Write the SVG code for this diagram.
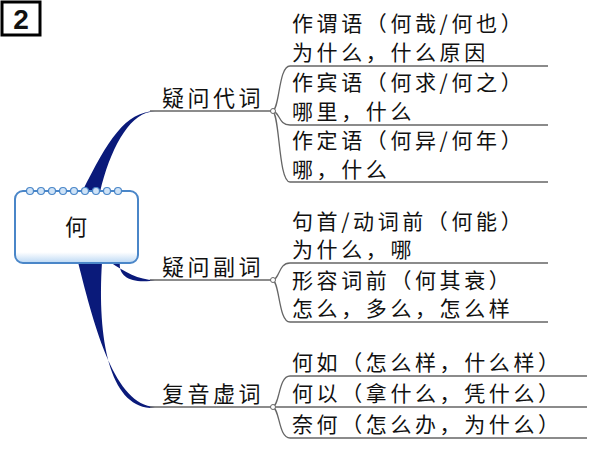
<svg xmlns="http://www.w3.org/2000/svg" width="600" height="450" viewBox="0 0 600 450">
<style>
text{font-family:"Noto Sans CJK SC","Liberation Serif",serif;fill:#111}
.c{font-size:21px;letter-spacing:3.6px}
.b{font-size:22px;letter-spacing:3.5px}
.l{fill:none;stroke:#666;stroke-width:1.3}
.t{fill:#0a1a7a}
</style>
<defs>
<linearGradient id="g" x1="0" y1="0" x2="0" y2="1"><stop offset="0" stop-color="#fff"/><stop offset="0.85" stop-color="#fff"/><stop offset="1" stop-color="#bcd8f4"/></linearGradient>
</defs>
<rect width="600" height="450" fill="#fff"/>
<g id="title"><rect x="2" y="2" width="38" height="33" fill="#fff" stroke="#000" stroke-width="3"/><text x="21" y="29" text-anchor="middle" style="font-family:'Liberation Sans',sans-serif;font-weight:bold;font-size:28px">2</text></g>
<g id="connectors">
<path class="t" d="M82,192 C108,140 125,112 155,111 L150,112 C128,116 110,150 100,192 Z"/>
<path class="t" d="M110,262 C125,272 138,280 155,280 L150,281 C130,283 118,276 120,262 Z"/>
<path class="t" d="M78,262 C95,330 115,405 155,407 L150,408 C110,405 97,340 102,262 Z"/>
<path class="l" d="M150,111 H272"/><path class="l" d="M150,280 H272"/><path class="l" d="M150,407 H272"/>
<path class="l" d="M272,111 C280,111 278,66 290,66 H548 M272,111 C280,111 278,125 290,125 H548 M272,111 C280,111 278,182 290,182 H548"/>
<path class="l" d="M272,280 C280,280 278,263 290,263 H548 M272,280 C280,280 278,322 290,322 H548"/>
<path class="l" d="M272,407 C280,407 278,376 290,376 H587 M272,407 H587 M272,407 C280,407 278,438 290,438 H587"/>
<circle cx="273" cy="111" r="2.5" fill="#fff" stroke="#666"/><circle cx="273" cy="280" r="2.5" fill="#fff" stroke="#666"/><circle cx="273" cy="407" r="2.5" fill="#fff" stroke="#666"/>
</g>
<g id="root">
<rect x="15" y="191" width="123" height="72" rx="8" fill="url(#g)" stroke="#4a86c8" stroke-width="2"/>
<g fill="#cfe3f7" stroke="#4a86c8" stroke-width="1.2">
<circle cx="30" cy="191" r="3.5"/><circle cx="41" cy="191" r="3.5"/><circle cx="52" cy="191" r="3.5"/><circle cx="63" cy="191" r="3.5"/><circle cx="74" cy="191" r="3.5"/><circle cx="85" cy="191" r="3.5"/><circle cx="96" cy="191" r="3.5"/><circle cx="107" cy="191" r="3.5"/><circle cx="118" cy="191" r="3.5"/>
</g>
<text x="76" y="235" text-anchor="middle" style="font-size:22px">何</text>
</g>
<g id="b1"><text class="b" x="162" y="106">疑问代词</text></g>
<g id="b2"><text class="b" x="162" y="275">疑问副词</text></g>
<g id="b3"><text class="b" x="162" y="402">复音虚词</text></g>
<g id="n1"><text class="c" x="292" y="31">作谓语（何哉/何也）</text><text class="c" x="292" y="60">为什么，什么原因</text></g>
<g id="n2"><text class="c" x="292" y="90">作宾语（何求/何之）</text><text class="c" x="292" y="119">哪里，什么</text></g>
<g id="n3"><text class="c" x="292" y="148">作定语（何异/何年）</text><text class="c" x="292" y="177">哪，什么</text></g>
<g id="n4"><text class="c" x="292" y="229">句首/动词前（何能）</text><text class="c" x="292" y="257">为什么，哪</text></g>
<g id="n5"><text class="c" x="292" y="288">形容词前（何其衰）</text><text class="c" x="292" y="316">怎么，多么，怎么样</text></g>
<g id="n6"><text class="c" x="292" y="370">何如（怎么样，什么样）</text></g>
<g id="n7"><text class="c" x="292" y="401">何以（拿什么，凭什么）</text></g>
<g id="n8"><text class="c" x="292" y="432">奈何（怎么办，为什么）</text></g>
</svg>
